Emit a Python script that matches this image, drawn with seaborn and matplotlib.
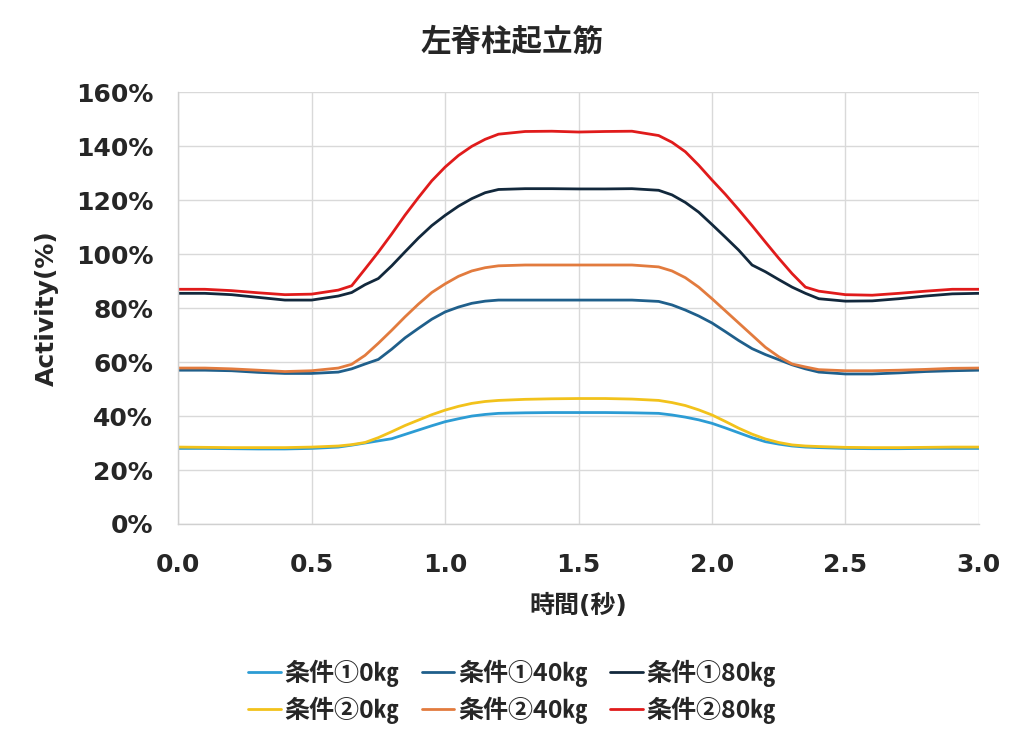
import numpy as np
import pandas as pd
import matplotlib
matplotlib.use("Agg")
import matplotlib.pyplot as plt
import seaborn as sns

# time axis (seconds)
time_s = [0.0, 0.1, 0.2, 0.3, 0.4, 0.5, 0.6,
          0.65, 0.7, 0.75, 0.8, 0.85, 0.9, 0.95, 1.0, 1.05, 1.1, 1.15, 1.2,
          1.3, 1.4, 1.5, 1.6, 1.7, 1.8,
          1.85, 1.9, 1.95, 2.0, 2.05, 2.1, 2.15, 2.2, 2.25, 2.3, 2.35, 2.4,
          2.5, 2.6, 2.7, 2.8, 2.9, 3.0]

# activity (%) per condition
c1_0kg = [28.0, 28.0, 27.9, 27.8, 27.8, 28.0, 28.5,
          29.2, 30.0, 30.8, 31.6, 33.2, 34.8, 36.4, 37.9, 39.0, 40.0, 40.6, 41.0,
          41.2, 41.3, 41.3, 41.3, 41.2, 41.0,
          40.4, 39.6, 38.6, 37.3, 35.6, 33.8, 32.0, 30.5, 29.6, 28.9, 28.5, 28.3,
          28.0, 27.9, 27.9, 28.0, 28.0, 28.0]
c1_40kg = [57.0, 57.0, 56.8, 56.2, 55.8, 55.8, 56.3,
           57.5, 59.3, 61.0, 64.8, 69.0, 72.5, 75.9, 78.6, 80.4, 81.8, 82.6, 83.0,
           83.0, 83.0, 83.0, 83.0, 83.0, 82.5,
           81.2, 79.3, 77.1, 74.5, 71.3, 68.0, 65.0, 62.8, 60.9, 59.0, 57.5, 56.3,
           55.6, 55.6, 56.0, 56.5, 56.8, 57.0]
c1_80kg = [85.5, 85.5, 85.0, 84.0, 83.0, 83.0, 84.5,
           85.8, 88.7, 91.0, 95.7, 100.9, 106.0, 110.6, 114.4, 117.8, 120.6, 122.8, 124.0,
           124.3, 124.3, 124.2, 124.2, 124.3, 123.7,
           122.0, 119.2, 115.6, 111.0, 106.3, 101.5, 96.0, 93.5, 90.6, 87.8, 85.5, 83.5,
           82.6, 82.7, 83.5, 84.5, 85.3, 85.5]
c2_0kg = [28.5, 28.4, 28.3, 28.3, 28.3, 28.5, 28.9,
          29.4, 30.2, 32.0, 34.2, 36.5, 38.5, 40.5, 42.2, 43.6, 44.7, 45.4, 45.8,
          46.2, 46.4, 46.5, 46.5, 46.3, 45.8,
          45.0, 43.9, 42.3, 40.4, 38.0, 35.5, 33.3, 31.5, 30.2, 29.3, 28.9, 28.7,
          28.4, 28.3, 28.3, 28.4, 28.5, 28.5]
c2_40kg = [57.8, 57.8, 57.5, 57.0, 56.5, 56.8, 57.8,
           59.2, 62.5, 67.0, 71.8, 76.8, 81.5, 85.8, 89.0, 91.8, 93.8, 95.0, 95.7,
           96.0, 96.0, 96.0, 96.0, 96.0, 95.3,
           93.8, 91.3, 87.8, 83.5, 79.0, 74.5, 70.0, 65.5, 62.0, 59.3, 58.2, 57.2,
           56.8, 56.8, 57.0, 57.3, 57.7, 57.8]
c2_80kg = [87.0, 87.0, 86.5, 85.7, 85.0, 85.2, 86.7,
           88.3, 94.5, 100.8, 107.5, 114.5, 121.0, 127.2, 132.3, 136.6, 140.0, 142.6, 144.5,
           145.5, 145.6, 145.3, 145.5, 145.6, 144.0,
           141.5, 138.0, 133.0, 127.5, 122.2, 116.5, 110.6, 104.5, 98.5, 92.8, 87.8, 86.3,
           85.0, 84.8, 85.5, 86.3, 87.0, 87.0]

labels = ["条件①0㎏", "条件①40㎏", "条件①80㎏",
          "条件②0㎏", "条件②40㎏", "条件②80㎏"]
series = [c1_0kg, c1_40kg, c1_80kg, c2_0kg, c2_40kg, c2_80kg]
colors = ["#2C9CD4", "#1F5F8B", "#12283C", "#F2C21B", "#E27B3E", "#E01B1B"]

rows = []
for lab, vals in zip(labels, series):
    for t, v in zip(time_s, vals):
        rows.append({"time": t, "activity": v, "cond": lab})
df = pd.DataFrame(rows)

sns.set_style("whitegrid")
plt.rcParams["font.family"] = ["DejaVu Sans", "Noto Sans CJK JP"]
plt.rcParams["font.weight"] = "bold"

fig = plt.figure(figsize=(10.24, 7.39), dpi=100)
ax = fig.add_axes([0.174, 0.291, 0.782, 0.584])

sns.lineplot(data=df, x="time", y="activity", hue="cond", hue_order=labels,
             palette=colors, linewidth=2.0, ax=ax)

ax.set_xlim(0, 3.0)
ax.set_ylim(0, 160)
ax.set_xticks(np.arange(0, 3.01, 0.5))
ax.set_xticklabels([f"{v:.1f}" for v in np.arange(0, 3.01, 0.5)])
ax.set_yticks(range(0, 161, 20))
ax.set_yticklabels([f"{v}%" for v in range(0, 161, 20)])
ax.tick_params(axis="both", labelsize=18, length=0)
ax.tick_params(axis="y", pad=18)
ax.tick_params(axis="x", pad=21)
for lab in ax.get_xticklabels() + ax.get_yticklabels():
    lab.set_fontweight("bold")

ax.grid(True, color="#D9D9D9", linewidth=1)
for side in ["top", "right"]:
    ax.spines[side].set_visible(False)
for side in ["left", "bottom"]:
    ax.spines[side].set_color("#D0D0D0")
    ax.spines[side].set_linewidth(1)

ax.set_xlabel("時間(秒)", fontsize=18, fontweight="bold", labelpad=12)
ax.set_ylabel("Activity(%)", fontsize=18, fontweight="bold", labelpad=12)
fig.suptitle("左脊柱起立筋", fontsize=22, fontweight="bold", y=0.963)

handles, labs = ax.get_legend_handles_labels()
ax.get_legend().remove()
order = [0, 3, 1, 4, 2, 5]
fig.legend([handles[i] for i in order], [labs[i] for i in order],
           loc="center", bbox_to_anchor=(0.5, 0.064), ncol=3,
           frameon=False,
           prop={"size": 18, "weight": "bold",
                 "family": ["Noto Sans CJK JP", "DejaVu Sans"]},
           handlelength=1.3, columnspacing=0.9, handletextpad=0.15,
           labelspacing=0.4)

fig.savefig("out.png", dpi=100)
